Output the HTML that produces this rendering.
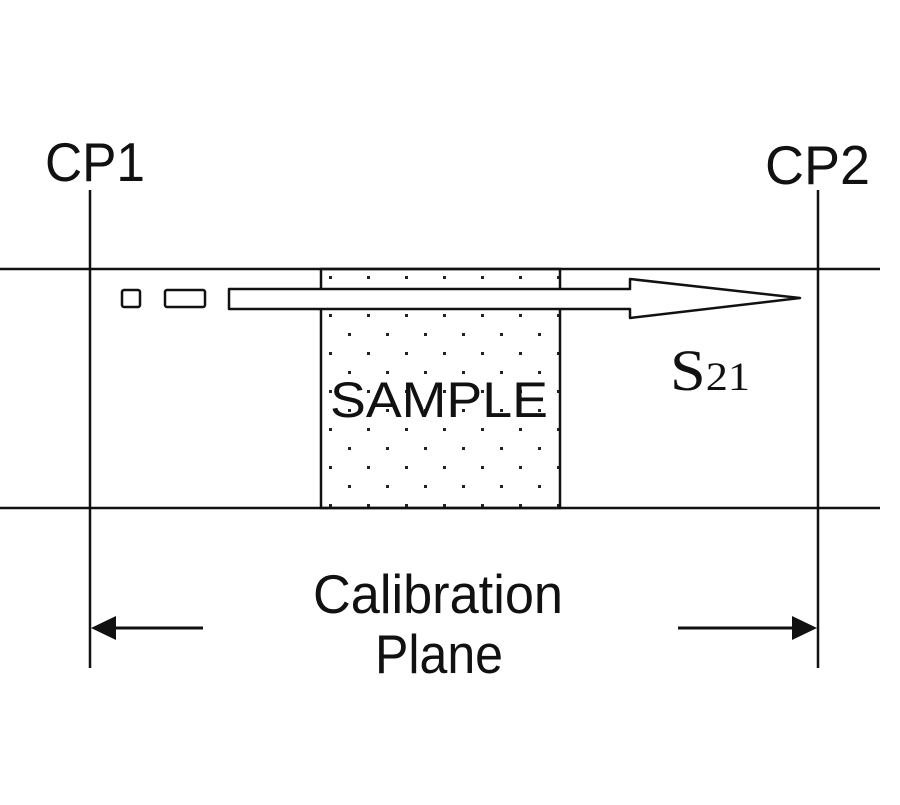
<!DOCTYPE html>
<html><head><style>body{margin:0;background:#fff}</style></head><body>
<svg width="900" height="800" xmlns="http://www.w3.org/2000/svg">
<defs>
<pattern id="d" x="321" y="269" width="38" height="38" patternUnits="userSpaceOnUse">
<rect x="8" y="7" width="3" height="3" fill="#222"/>
<rect x="27" y="26" width="3" height="3" fill="#222"/>
</pattern>
</defs>
<rect width="900" height="800" fill="#fff"/>
<g stroke="#111" stroke-width="2.5" fill="none">
<line x1="0" y1="269" x2="880" y2="269"/>
<line x1="0" y1="508" x2="880" y2="508"/>
<line x1="90" y1="190" x2="90" y2="668"/>
<line x1="818" y1="190" x2="818" y2="668"/>
</g>
<rect x="321" y="269" width="239" height="239" fill="url(#d)" stroke="#111" stroke-width="2.5"/>
<rect x="122" y="290" width="18" height="17" rx="2" fill="#fff" stroke="#111" stroke-width="2.5"/>
<rect x="165" y="290" width="40" height="17" rx="2" fill="#fff" stroke="#111" stroke-width="2.5"/>
<path d="M229 289 H630 V279 L800 298 L630 318 V309 H229 Z" fill="#fff" stroke="#111" stroke-width="2.5" stroke-linejoin="round"/>
<g font-family="Liberation Sans, sans-serif" fill="#111" font-size="55">
<text x="45" y="181" textLength="100" lengthAdjust="spacingAndGlyphs">CP1</text>
<text x="765" y="184" textLength="105" lengthAdjust="spacingAndGlyphs">CP2</text>
<text x="330" y="417" font-size="50" textLength="218" lengthAdjust="spacingAndGlyphs">SAMPLE</text>
<text x="313" y="613" textLength="250" lengthAdjust="spacingAndGlyphs">Calibration</text>
<text x="375" y="673" textLength="128" lengthAdjust="spacingAndGlyphs">Plane</text>
</g>
<text x="670" y="390" font-family="Liberation Serif, serif" font-size="58" fill="#111" textLength="80" lengthAdjust="spacingAndGlyphs">S<tspan font-size="40">21</tspan></text>
<g stroke="#111" stroke-width="3">
<line x1="100" y1="628" x2="203" y2="628"/>
<line x1="678" y1="628" x2="808" y2="628"/>
</g>
<path d="M91 628 L116 616 L116 640 Z" fill="#111"/>
<path d="M817 628 L792 616 L792 640 Z" fill="#111"/>
</svg>
</body></html>
